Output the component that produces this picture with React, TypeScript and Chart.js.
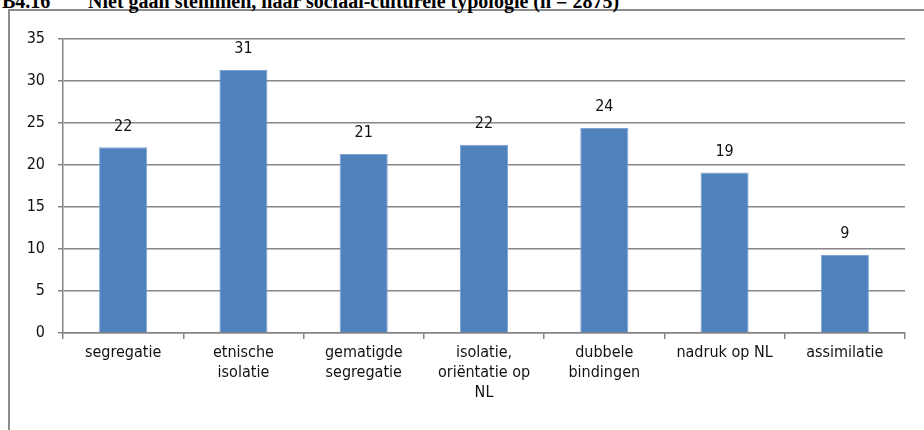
import React, { useEffect, useRef } from "react";
import { Chart, registerables } from "chart.js";

Chart.register(...registerables);

const categories: (string | string[])[] = [
  "segregatie",
  ["etnische", "isolatie"],
  ["gematigde", "segregatie"],
  ["isolatie,", "oriëntatie op", "NL"],
  ["dubbele", "bindingen"],
  "nadruk op NL",
  "assimilatie",
];

const values = [22.1, 31.3, 21.3, 22.4, 24.4, 19.1, 9.3];

const yMin = 0;
const yMax = 35;
const yStep = 5;

const titleNumber = "B4.16";
const titleText = "Niet gaan stemmen, naar sociaal-culturele typologie (n = 2875)";

const FONT = '"Liberation Sans Narrow", "Arial Narrow", "DejaVu Sans Condensed", sans-serif';
const GRID = "#868686";
const BAR = "#4F81BD";

const valueLabels = {
  id: "valueLabels",
  afterDatasetsDraw(chart: any) {
    const ctx = chart.ctx;
    const meta = chart.getDatasetMeta(0);
    const data = chart.data.datasets[0].data as number[];
    ctx.save();
    ctx.font = `16px ${FONT}`;
    ctx.fillStyle = "#111";
    ctx.textAlign = "center";
    ctx.textBaseline = "middle";
    meta.data.forEach((el: any, i: number) => {
      ctx.fillText(String(Math.round(data[i])), el.x, el.y - 21);
    });
    ctx.restore();
  },
};

export default function App() {
  const ref = useRef<HTMLCanvasElement | null>(null);

  useEffect(() => {
    if (!ref.current) return;
    const chart = new Chart(ref.current, {
      type: "bar",
      data: {
        labels: categories,
        datasets: [
          {
            data: values,
            backgroundColor: BAR,
            borderColor: "#7FA3D3",
            borderWidth: 1,
            barPercentage: 0.4,
            categoryPercentage: 1,
          },
        ],
      },
      options: {
        animation: false,
        responsive: false,
        maintainAspectRatio: false,
        layout: { padding: { top: 39, right: 19, left: 0, bottom: 0 } },
        plugins: {
          legend: { display: false },
          tooltip: { enabled: false },
          title: { display: false },
        },
        scales: {
          x: {
            type: "category",
            offset: true,
            grid: {
              display: true,
              drawOnChartArea: false,
              drawTicks: true,
              tickLength: 6,
              color: GRID,
              lineWidth: 1.5,
              offset: true,
            },
            border: { display: true, color: GRID, width: 1.5 },
            ticks: {
              font: { family: FONT, size: 16, lineHeight: 1.25 },
              color: "#111",
              padding: 4,
              maxRotation: 0,
              minRotation: 0,
              autoSkip: false,
            },
            afterFit: (s: any) => {
              s.height = 97;
            },
          },
          y: {
            min: yMin,
            max: yMax,
            grid: {
              color: GRID,
              lineWidth: 1.5,
              drawTicks: true,
              tickLength: 5,
            },
            border: { display: true, color: GRID, width: 1.5 },
            ticks: {
              stepSize: yStep,
              font: { family: FONT, size: 16 },
              color: "#111",
              padding: 13,
            },
            afterFit: (s: any) => {
              s.width = 63;
            },
          },
        },
      },
      plugins: [valueLabels],
    });
    return () => chart.destroy();
  }, []);

  return (
    <div
      style={{
        position: "fixed",
        left: 0,
        top: 0,
        width: 924,
        height: 430,
        overflow: "hidden",
        background: "#fff",
      }}
    >
      <div
        style={{
          position: "absolute",
          left: 8,
          top: 9,
          width: 1000,
          height: 600,
          border: "2px solid #8c8c8c",
          boxSizing: "border-box",
        }}
      />
      <div
        style={{
          position: "absolute",
          left: 2,
          top: -9,
          whiteSpace: "pre",
          fontFamily: '"Liberation Serif", "Times New Roman", serif',
          fontWeight: "bold",
          fontSize: 20,
          lineHeight: "20px",
          color: "#000",
        }}
      >
        <span style={{ display: "inline-block", width: 86 }}>{titleNumber}</span>
        {titleText}
      </div>
      <canvas
        ref={ref}
        width={924}
        height={430}
        style={{ position: "absolute", left: 0, top: 0, width: 924, height: 430 }}
      />
    </div>
  );
}
